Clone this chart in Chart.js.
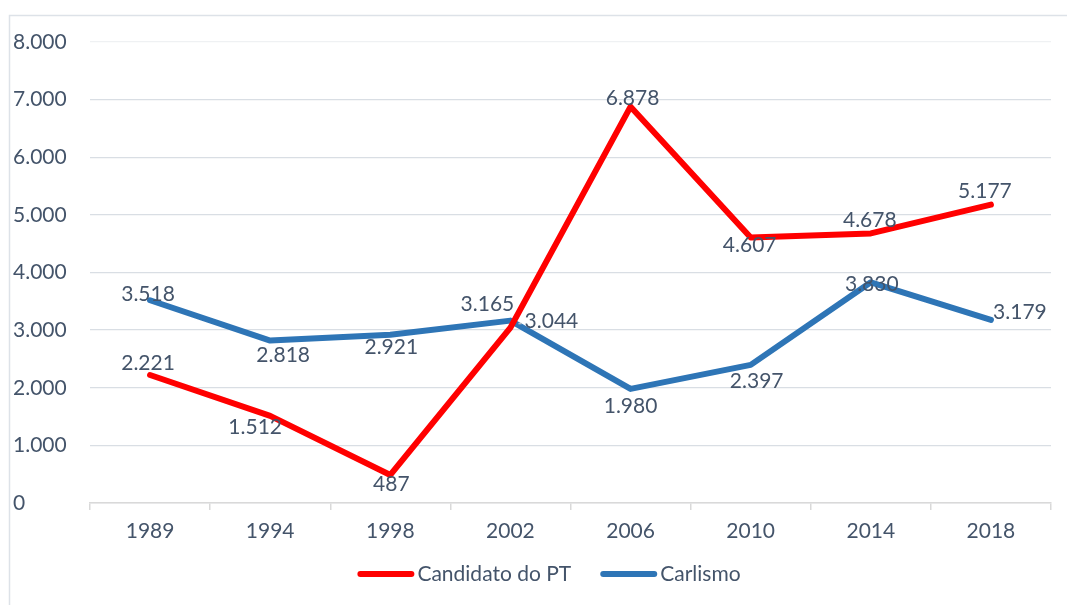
<!DOCTYPE html>
<html>
<head>
<meta charset="utf-8">
<script src="https://cdn.jsdelivr.net/npm/chart.js@4.4.1/dist/chart.umd.min.js"></script>
<style>
  html, body { margin: 0; padding: 0; background: #ffffff; }
  canvas { display: block; }
</style>
</head>
<body>
<canvas id="c" width="1067" height="605"></canvas>
<script>
// ---- Data ----
const years = ['1989', '1994', '1998', '2002', '2006', '2010', '2014', '2018'];
const candidatoPT = [2221, 1512, 487, 3044, 6878, 4607, 4678, 5177];
const carlismo = [3518, 2818, 2921, 3165, 1980, 2397, 3830, 3179];
const yTickValues = [0, 1000, 2000, 3000, 4000, 5000, 6000, 7000, 8000];
const seriesNames = ['Candidato do PT', 'Carlismo'];

// ---- Label placement (pixel offsets from each point, styling only) ----
const labelOffsetsPT = [[-2, -12], [-15, 11], [1, 9], [41, -6], [2, -8], [-1, 8], [-1, -13], [-6, -13]];
const labelOffsetsCarlismo = [[-2, -6], [13, 15], [1, 13], [-23, -16], [0, 17], [6, 16], [1, 2], [29, -8]];

const TEXT_COLOR = '#44546a';
const FONT_FAMILY = 'Lato, "Open Sans", sans-serif';
const FONT_SIZE = 21;
const LEGEND_CENTER_X = 549;
const LEGEND_Y = 574;

function fmt(v) {
  return String(v).replace(/\B(?=(\d{3})+(?!\d))/g, '.');
}

const framePlugin = {
  id: 'frame',
  beforeDraw(chart) {
    const ctx = chart.ctx;
    ctx.save();
    ctx.fillStyle = '#ffffff';
    ctx.fillRect(0, 0, chart.width, chart.height);
    ctx.strokeStyle = '#dde2e8';
    ctx.lineWidth = 1.5;
    ctx.beginPath();
    ctx.moveTo(9.5, chart.height + 5);
    ctx.lineTo(9.5, 15.5);
    ctx.lineTo(chart.width + 5, 15.5);
    ctx.stroke();
    ctx.restore();
  }
};

const labelPlugin = {
  id: 'pointLabels',
  afterDatasetsDraw(chart) {
    const ctx = chart.ctx;
    const offsets = [labelOffsetsPT, labelOffsetsCarlismo];
    ctx.save();
    ctx.font = FONT_SIZE + 'px ' + FONT_FAMILY;
    ctx.textAlign = 'center';
    ctx.textBaseline = 'middle';
    chart.data.datasets.forEach((ds, di) => {
      const meta = chart.getDatasetMeta(di);
      meta.data.forEach((pt, i) => {
        const off = offsets[di][i];
        const lx = pt.x + off[0];
        const ly = pt.y + off[1];
        const text = fmt(ds.data[i]);
        if (Math.abs(off[0]) > 30) {
          const w = ctx.measureText(text).width;
          ctx.strokeStyle = '#b8bcc2';
          ctx.lineWidth = 1.5;
          ctx.beginPath();
          const dir = Math.sign(off[0]);
          ctx.moveTo(pt.x + dir * 8, ly + 2);
          ctx.lineTo(lx - dir * (w / 2 + 3), ly + 2);
          ctx.stroke();
        }
        ctx.fillStyle = TEXT_COLOR;
        ctx.fillText(text, lx, ly);
      });
    });
    ctx.restore();
  }
};

const legendPlugin = {
  id: 'customLegend',
  afterDraw(chart) {
    const ctx = chart.ctx;
    const sample = 57, gapText = 3, gapItem = 29;
    ctx.save();
    ctx.font = FONT_SIZE + 'px ' + FONT_FAMILY;
    const items = chart.data.datasets.map(ds => ({ text: ds.label, color: ds.borderColor, w: ctx.measureText(ds.label).width }));
    let total = 0;
    items.forEach((it, i) => { total += sample + gapText + it.w + (i ? gapItem : 0); });
    let x = LEGEND_CENTER_X - total / 2;
    items.forEach((it, i) => {
      if (i) x += gapItem;
      ctx.strokeStyle = it.color;
      ctx.lineWidth = 6;
      ctx.lineCap = 'round';
      ctx.beginPath();
      ctx.moveTo(x + 3, LEGEND_Y);
      ctx.lineTo(x + sample - 3, LEGEND_Y);
      ctx.stroke();
      x += sample + gapText;
      ctx.fillStyle = TEXT_COLOR;
      ctx.textAlign = 'left';
      ctx.textBaseline = 'middle';
      ctx.fillText(it.text, x, LEGEND_Y);
      x += it.w;
    });
    ctx.restore();
  }
};

new Chart(document.getElementById('c'), {
  type: 'line',
  data: {
    labels: years,
    datasets: [
      {
        label: seriesNames[0],
        data: candidatoPT,
        borderColor: '#ff0000',
        backgroundColor: '#ff0000',
        borderWidth: 6,
        pointRadius: 0,
        tension: 0,
        borderCapStyle: 'round',
        borderJoinStyle: 'round'
      },
      {
        label: seriesNames[1],
        data: carlismo,
        borderColor: '#2e75b6',
        backgroundColor: '#2e75b6',
        borderWidth: 6,
        pointRadius: 0,
        tension: 0,
        borderCapStyle: 'round',
        borderJoinStyle: 'round'
      }
    ]
  },
  options: {
    responsive: false,
    animation: false,
    devicePixelRatio: 1,
    layout: { padding: { left: 13, right: 16, top: 42, bottom: 64 } },
    scales: {
      x: {
        offset: true,
        grid: { offset: true, drawOnChartArea: false, drawTicks: true, tickLength: 7, color: '#d9d9d9', lineWidth: 1.5 },
        border: { color: '#d9d9d9', width: 1.5 },
        ticks: { color: TEXT_COLOR, font: { family: FONT_FAMILY, size: FONT_SIZE }, padding: 9, maxRotation: 0 },
        afterFit(s) { s.height = 38; }
      },
      y: {
        min: 0,
        max: 8000,
        afterBuildTicks(s) { s.ticks = yTickValues.map(v => ({ value: v })); },
        grid: {
          drawTicks: false,
          color: c => (c.tick && c.tick.value === 8000) ? '#eff1f3' : '#d9dee4',
          lineWidth: 1.3
        },
        border: { display: false },
        ticks: {
          color: TEXT_COLOR,
          font: { family: FONT_FAMILY, size: FONT_SIZE },
          crossAlign: 'far',
          callback: v => fmt(v)
        },
        afterFit(s) { s.width = 77; }
      }
    },
    plugins: {
      legend: { display: false },
      tooltip: { enabled: false }
    }
  },
  plugins: [framePlugin, labelPlugin, legendPlugin]
});
</script>
</body>
</html>
